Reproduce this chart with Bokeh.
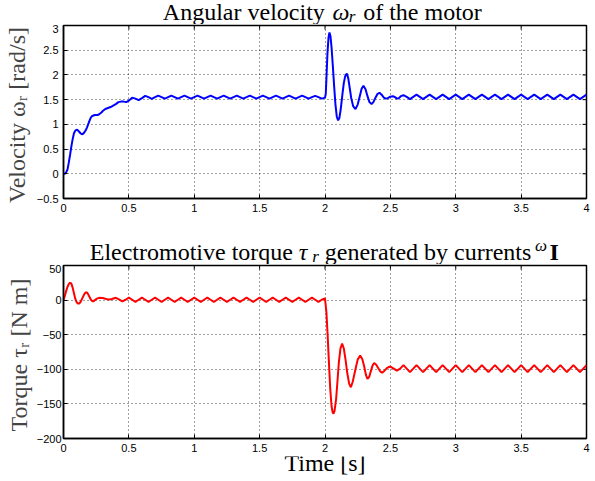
import math
from bokeh.plotting import figure
from bokeh.layouts import column
from bokeh.models import FixedTicker, Label, Range1d, CustomJSTickFormatter
from bokeh.embed import file_html
from bokeh.resources import INLINE

# ---------------- data ----------------
# angular velocity of the motor [rad/s]: (time [s], value)
vel_startup = [
    (0.00, 0.00), (0.01, 0.00), (0.02, 0.03), (0.03, 0.08), (0.04, 0.22),
    (0.05, 0.38), (0.06, 0.55), (0.07, 0.70), (0.08, 0.82), (0.09, 0.87),
    (0.10, 0.89), (0.11, 0.88), (0.12, 0.85), (0.13, 0.82), (0.14, 0.80),
    (0.15, 0.81), (0.16, 0.84), (0.17, 0.88), (0.18, 0.94), (0.19, 1.01),
    (0.20, 1.08), (0.21, 1.14), (0.22, 1.17), (0.23, 1.18), (0.24, 1.19),
    (0.25, 1.19), (0.26, 1.19), (0.27, 1.20), (0.28, 1.22), (0.29, 1.24),
    (0.30, 1.27), (0.32, 1.31), (0.34, 1.33), (0.36, 1.35), (0.38, 1.38),
    (0.40, 1.41), (0.42, 1.45), (0.44, 1.46), (0.46, 1.46), (0.48, 1.45),
    (0.50, 1.48),
]
vel_ripple_before = [
    (0.525, 1.54), (0.55, 1.52), (0.575, 1.49), (0.60, 1.53),
    (0.625, 1.575), (0.65, 1.55), (0.675, 1.515), (0.70, 1.55),
    (0.725, 1.58), (0.75, 1.55), (0.775, 1.52), (0.80, 1.55),
    (0.825, 1.58), (0.85, 1.55), (0.875, 1.52), (0.90, 1.55),
    (0.925, 1.58), (0.95, 1.55), (0.975, 1.52), (1.00, 1.55),
    (1.025, 1.58), (1.05, 1.55), (1.075, 1.52), (1.10, 1.55),
    (1.125, 1.58), (1.15, 1.55), (1.175, 1.52), (1.20, 1.55),
    (1.225, 1.58), (1.25, 1.55), (1.275, 1.52), (1.30, 1.55),
    (1.325, 1.58), (1.35, 1.55), (1.375, 1.52), (1.40, 1.55),
    (1.425, 1.58), (1.45, 1.55), (1.475, 1.52), (1.50, 1.55),
    (1.525, 1.58), (1.55, 1.55), (1.575, 1.52), (1.60, 1.55),
    (1.625, 1.58), (1.65, 1.55), (1.675, 1.52), (1.70, 1.55),
    (1.725, 1.58), (1.75, 1.55), (1.775, 1.52), (1.80, 1.55),
    (1.825, 1.58), (1.85, 1.55), (1.875, 1.52), (1.90, 1.55),
    (1.925, 1.575), (1.95, 1.55), (1.975, 1.52), (2.00, 1.54),
]
vel_step = [
    (2.006, 1.62), (2.012, 2.00), (2.019, 2.45), (2.027, 2.76), (2.034, 2.86),
    (2.042, 2.78), (2.05, 2.56), (2.06, 2.18), (2.07, 1.77), (2.08, 1.40),
    (2.09, 1.16), (2.10, 1.08), (2.11, 1.13), (2.12, 1.30), (2.133, 1.60),
    (2.144, 1.84), (2.155, 1.98), (2.167, 2.03), (2.178, 1.93), (2.19, 1.72),
    (2.20, 1.54), (2.215, 1.37), (2.233, 1.31), (2.25, 1.40), (2.266, 1.57),
    (2.28, 1.72), (2.294, 1.78), (2.31, 1.71), (2.325, 1.57), (2.34, 1.45),
    (2.356, 1.41), (2.37, 1.45), (2.386, 1.54), (2.40, 1.61), (2.417, 1.64),
    (2.433, 1.60), (2.45, 1.54), (2.465, 1.52), (2.48, 1.53), (2.50, 1.56),
    (2.52, 1.57), (2.535, 1.55), (2.55, 1.52), (2.565, 1.53), (2.58, 1.57),
    (2.60, 1.59),
]
vel_ripple_after = [
    (2.625, 1.555), (2.65, 1.51), (2.675, 1.555), (2.70, 1.60),
    (2.725, 1.555), (2.75, 1.51), (2.775, 1.555), (2.80, 1.60),
    (2.825, 1.555), (2.85, 1.51), (2.875, 1.555), (2.90, 1.60),
    (2.925, 1.555), (2.95, 1.51), (2.975, 1.555), (3.00, 1.60),
    (3.025, 1.555), (3.05, 1.51), (3.075, 1.555), (3.10, 1.60),
    (3.125, 1.555), (3.15, 1.51), (3.175, 1.555), (3.20, 1.60),
    (3.225, 1.555), (3.25, 1.51), (3.275, 1.555), (3.30, 1.60),
    (3.325, 1.555), (3.35, 1.51), (3.375, 1.555), (3.40, 1.60),
    (3.425, 1.555), (3.45, 1.51), (3.475, 1.555), (3.50, 1.60),
    (3.525, 1.555), (3.55, 1.51), (3.575, 1.555), (3.60, 1.60),
    (3.625, 1.555), (3.65, 1.51), (3.675, 1.555), (3.70, 1.60),
    (3.725, 1.555), (3.75, 1.51), (3.775, 1.555), (3.80, 1.60),
    (3.825, 1.555), (3.85, 1.51), (3.875, 1.555), (3.90, 1.60),
    (3.925, 1.555), (3.95, 1.51), (3.975, 1.555), (4.00, 1.60),
]

# electromotive torque [N m]: (time [s], value)
tq_startup = [
    (0.00, 0.0), (0.01, 6.0), (0.02, 13.0), (0.03, 19.0), (0.04, 23.0),
    (0.05, 25.0), (0.06, 24.0), (0.07, 18.0), (0.08, 10.0), (0.09, 2.0),
    (0.10, -3.0), (0.11, -5.0), (0.12, -5.0), (0.13, -3.0), (0.14, 1.0),
    (0.15, 5.0), (0.16, 9.0), (0.17, 11.0), (0.18, 11.0), (0.19, 8.0),
    (0.20, 4.0), (0.21, 0.5), (0.22, -1.5), (0.23, -1.5), (0.24, 0.0),
    (0.25, 1.5), (0.26, 2.5), (0.27, 3.0), (0.28, 3.3), (0.29, 3.2),
    (0.30, 3.0), (0.32, 2.0), (0.34, 1.0), (0.35, 0.8), (0.37, 1.5),
    (0.40, 3.3), (0.425, 1.0), (0.45, -2.0), (0.475, 0.5),
]
tq_ripple_before = [
    (0.50, 3.5), (0.525, 0.5), (0.55, -2.5), (0.575, 0.5),
    (0.60, 3.5), (0.625, 0.5), (0.65, -2.5), (0.675, 0.5),
    (0.70, 3.5), (0.725, 0.5), (0.75, -2.5), (0.775, 0.5),
    (0.80, 3.5), (0.825, 0.5), (0.85, -2.5), (0.875, 0.5),
    (0.90, 3.5), (0.925, 0.5), (0.95, -2.5), (0.975, 0.5),
    (1.00, 3.5), (1.025, 0.5), (1.05, -2.5), (1.075, 0.5),
    (1.10, 3.5), (1.125, 0.5), (1.15, -2.5), (1.175, 0.5),
    (1.20, 3.5), (1.225, 0.5), (1.25, -2.5), (1.275, 0.5),
    (1.30, 3.5), (1.325, 0.5), (1.35, -2.5), (1.375, 0.5),
    (1.40, 3.5), (1.425, 0.5), (1.45, -2.5), (1.475, 0.5),
    (1.50, 3.5), (1.525, 0.5), (1.55, -2.5), (1.575, 0.5),
    (1.60, 3.5), (1.625, 0.5), (1.65, -2.5), (1.675, 0.5),
    (1.70, 3.5), (1.725, 0.5), (1.75, -2.5), (1.775, 0.5),
    (1.80, 3.5), (1.825, 0.5), (1.85, -2.5), (1.875, 0.5),
    (1.90, 3.5), (1.925, 0.5), (1.95, -2.5), (1.975, 0.5),
    (2.00, 2.5),
]
tq_step = [
    (2.011, -18.0), (2.02, -50.0), (2.03, -90.0), (2.04, -128.0), (2.05, -153.0),
    (2.058, -162.0), (2.065, -164.0), (2.073, -160.0), (2.085, -143.0), (2.095, -118.0),
    (2.106, -90.0), (2.118, -70.0), (2.131, -63.0), (2.144, -70.0), (2.157, -86.0),
    (2.17, -105.0), (2.185, -121.0), (2.198, -126.0), (2.212, -118.0), (2.233, -100.0),
    (2.25, -86.0), (2.269, -80.0), (2.285, -85.0), (2.30, -96.0), (2.313, -108.0),
    (2.325, -114.0), (2.338, -111.0), (2.35, -103.0), (2.363, -95.0), (2.376, -91.0),
    (2.39, -93.0), (2.407, -98.0), (2.422, -103.0), (2.437, -105.0), (2.455, -102.0),
    (2.475, -98.0), (2.50, -96.0), (2.525, -99.0), (2.55, -102.0), (2.575, -99.0),
]
tq_ripple_after = [
    (2.60, -94.0), (2.625, -99.0), (2.65, -104.0), (2.675, -99.0),
    (2.70, -94.0), (2.725, -99.0), (2.75, -104.0), (2.775, -99.0),
    (2.80, -94.0), (2.825, -99.0), (2.85, -104.0), (2.875, -99.0),
    (2.90, -94.0), (2.925, -99.0), (2.95, -104.0), (2.975, -99.0),
    (3.00, -94.0), (3.025, -99.0), (3.05, -104.0), (3.075, -99.0),
    (3.10, -94.0), (3.125, -99.0), (3.15, -104.0), (3.175, -99.0),
    (3.20, -94.0), (3.225, -99.0), (3.25, -104.0), (3.275, -99.0),
    (3.30, -94.0), (3.325, -99.0), (3.35, -104.0), (3.375, -99.0),
    (3.40, -94.0), (3.425, -99.0), (3.45, -104.0), (3.475, -99.0),
    (3.50, -94.0), (3.525, -99.0), (3.55, -104.0), (3.575, -99.0),
    (3.60, -94.0), (3.625, -99.0), (3.65, -104.0), (3.675, -99.0),
    (3.70, -94.0), (3.725, -99.0), (3.75, -104.0), (3.775, -99.0),
    (3.80, -94.0), (3.825, -99.0), (3.85, -104.0), (3.875, -99.0),
    (3.90, -94.0), (3.925, -99.0), (3.95, -104.0), (3.975, -99.0),
    (4.00, -94.0),
]

x_ticks = [0, 0.5, 1, 1.5, 2, 2.5, 3, 3.5, 4]
vel_ticks = [-0.5, 0, 0.5, 1, 1.5, 2, 2.5, 3]
tq_ticks = [-200, -150, -100, -50, 0, 50]

# ---------------- styling ----------------
SERIF = "Liberation Serif"
SANS = "Liberation Sans"
FRAME_W, FRAME_H = 523, 173
LEFT, RIGHT = 62, 10
fmt_code = "var s = Math.abs(tick).toString(); return (tick < 0 ? '\\u2212' : '') + s;"


def style_axis(ax, ticks, standoff):
    ax.ticker = FixedTicker(ticks=ticks)
    ax.formatter = CustomJSTickFormatter(code=fmt_code)
    ax.major_tick_in = 4
    ax.major_tick_out = 0
    ax.minor_tick_line_color = None
    ax.major_tick_line_color = "black"
    ax.major_tick_line_width = 1
    ax.axis_line_color = "black"
    ax.axis_line_width = 1.5
    ax.major_label_text_font = SANS
    ax.major_label_text_color = "black"
    ax.major_label_text_font_size = "11px"
    ax.major_label_standoff = standoff


def make_fig(yr, yticks, bottom, ylabel, ylabel_standoff, tick_standoff):
    p = figure(title=None, frame_width=FRAME_W, frame_height=FRAME_H, output_backend="svg",
               toolbar_location=None, x_range=Range1d(0, 4), y_range=Range1d(*yr),
               min_border_left=LEFT, min_border_right=RIGHT,
               min_border_top=1, min_border_bottom=bottom)
    p.outline_line_color = "black"
    p.outline_line_width = 1.5
    style_axis(p.xaxis[0], x_ticks, 5)
    style_axis(p.yaxis[0], yticks, tick_standoff)
    ya = p.yaxis[0]
    ya.axis_label = ylabel
    ya.axis_label_text_font = SERIF
    ya.axis_label_text_font_size = "24px"
    ya.axis_label_text_font_style = "normal"
    ya.axis_label_standoff = ylabel_standoff
    for g, t in ((p.xgrid[0], x_ticks), (p.ygrid[0], yticks)):
        g.ticker = FixedTicker(ticks=t)
        g.grid_line_color = "black"
        g.grid_line_alpha = 0.75
        g.grid_line_dash = "1 3"
        g.grid_line_width = 1
    # inward ticks on the top and right edges of the box
    p.ray(x=x_ticks, y=[yr[1]] * len(x_ticks), length=4, length_units="screen",
          angle=-math.pi / 2, line_color="black", line_width=1)
    p.ray(x=[4] * len(yticks), y=yticks, length=4, length_units="screen",
          angle=math.pi, line_color="black", line_width=1)
    return p


def text_fig(height, pieces):
    """A strip of text with the same frame as the plots.  Each piece gives its page x,
    its wanted baseline height above the strip bottom, and its font size in px; the
    renderer places the anchor about 0.3 em above the baseline, so that is added."""
    t = figure(title=None, frame_width=FRAME_W, frame_height=height, output_backend="svg",
               toolbar_location=None, x_range=Range1d(0, 4), y_range=Range1d(0, height),
               x_axis_location=None, y_axis_location=None,
               min_border_left=LEFT, min_border_right=RIGHT,
               min_border_top=0, min_border_bottom=0)
    t.outline_line_color = None
    t.xgrid.visible = False
    t.ygrid.visible = False
    for px, base, text, size, style, align in pieces:
        t.add_layout(Label(x=(px - LEFT) * 4.0 / FRAME_W, y=base + 0.3 * size, text=text,
                           text_font=SERIF, text_font_size=f"{size}px",
                           text_font_style=style, text_align=align,
                           text_baseline="alphabetic", text_color="black"))
    return t


# title of the top plot (strip: page y 0..24, baseline at page y 19)
title1 = text_fig(24, [
    (323.3, 5.0, "Angular velocity", 24, "normal", "right"),
    (331.0, 5.0, "\u03c9", 24, "italic", "left"),
    (347.3, 3.0, "r", 17, "italic", "left"),
    (361.7, 5.0, "of the motor", 24, "normal", "left"),
])

vel = vel_startup + vel_ripple_before + vel_step + vel_ripple_after
p1 = make_fig((-0.5, 3), vel_ticks, 22, "Velocity \u03c9\u1d63  [rad/s]", 4, 5)
p1.line([a for a, b in vel], [b for a, b in vel], line_color="#0000ff", line_width=2)

# title of the bottom plot (strip: page y 220..264, baseline at page y 258.8)
title2 = text_fig(44, [
    (291.5, 5.2, "Electromotive torque", 24, "normal", "right"),
    (297.3, 5.2, "\u03c4", 24, "italic", "left"),
    (310.7, 3.2, "r", 17, "italic", "left"),
    (323.3, 5.2, "generated by currents", 24, "normal", "left"),
    (533.5, 13.5, "\u03c9", 17, "italic", "left"),
    (548.0, 5.2, "I", 24, "bold", "left"),
])

tq = tq_startup + tq_ripple_before + tq_step + tq_ripple_after
p2 = make_fig((-200, 50), tq_ticks, 18, "Torque \u03c4\u1d63  [N m]", 2, 2)
p2.line([a for a, b in tq], [b for a, b in tq], line_color="#ff0000", line_width=2)

# x-axis title (strip: page y 456..481, baseline at page y 470)
xtitle = text_fig(25, [(323.5, 11, "Time [s]", 24, "normal", "center")])

layout = column(title1, p1, title2, p2, xtitle, spacing=0)
open("out.html", "w").write(file_html(layout, INLINE))
